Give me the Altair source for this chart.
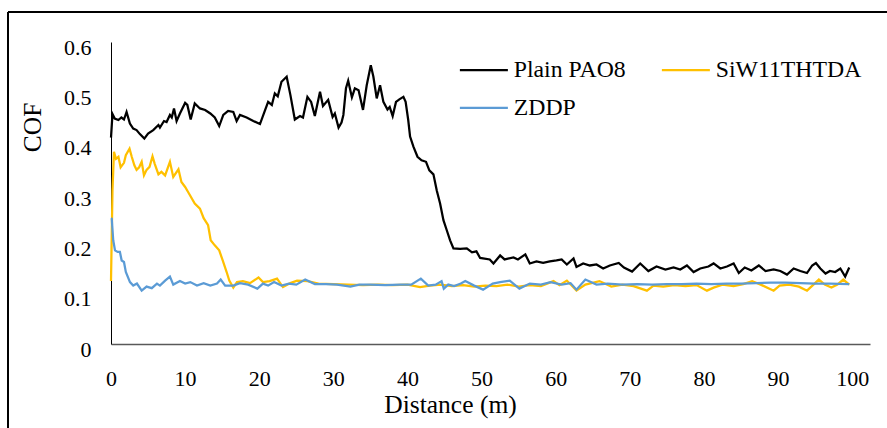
import altair as alt
import pandas as pd

SERIES = ["Plain PAO8", "SiW11THTDA", "ZDDP"]
COLORS = ["#000000", "#FFC000", "#5B9BD5"]
X_TICKS = [0, 10, 20, 30, 40, 50, 60, 70, 80, 90, 100]
Y_TICKS = [0, 0.1, 0.2, 0.3, 0.4, 0.5, 0.6]

# (distance m, COF)
PAO8 = [(0, 0.410), (0.2, 0.457), (0.5, 0.448), (1.0, 0.445), (1.4, 0.450), (1.75, 0.446), (2.1, 0.461),
        (2.55, 0.438), (3.0, 0.428), (3.45, 0.425), (3.9, 0.417), (4.5, 0.408), (5.0, 0.418), (5.7, 0.425),
        (6.4, 0.435), (6.6, 0.430), (7.15, 0.443), (7.5, 0.441), (7.95, 0.455), (8.2, 0.450), (8.5, 0.468),
        (8.85, 0.443), (9.3, 0.458), (10.0, 0.479), (10.3, 0.475), (10.75, 0.446), (11.3, 0.478), (12.0, 0.468),
        (12.7, 0.465), (13.4, 0.458), (14.0, 0.450), (14.6, 0.433), (15.15, 0.455), (15.8, 0.463), (16.5, 0.461),
        (16.95, 0.443), (17.4, 0.455), (18.3, 0.450), (19.2, 0.443), (20.1, 0.437), (20.8, 0.465), (21.2, 0.481),
        (21.7, 0.475), (22.1, 0.498), (22.5, 0.492), (23.0, 0.521), (23.7, 0.531), (24.2, 0.495), (24.8, 0.446),
        (25.5, 0.453), (25.9, 0.450), (26.5, 0.491), (27.0, 0.481), (27.5, 0.453), (28.2, 0.501), (28.6, 0.473),
        (29.3, 0.485), (29.9, 0.451), (30.2, 0.458), (30.7, 0.430), (31.1, 0.440), (31.35, 0.455), (31.7, 0.508),
        (32.0, 0.523), (32.5, 0.490), (32.9, 0.508), (33.4, 0.504), (34.0, 0.465), (34.5, 0.514), (35.05, 0.554),
        (35.4, 0.531), (35.85, 0.488), (36.3, 0.514), (36.75, 0.481), (37.3, 0.466), (37.6, 0.471), (38.0, 0.453),
        (38.45, 0.481), (38.9, 0.486), (39.45, 0.491), (39.75, 0.481), (40.1, 0.445), (40.35, 0.412), (40.8, 0.392),
        (41.35, 0.372), (41.9, 0.365), (42.5, 0.362), (42.95, 0.345), (43.5, 0.337), (43.95, 0.305), (44.4, 0.279),
        (44.85, 0.246), (45.3, 0.226), (45.75, 0.206), (46.2, 0.190), (47.1, 0.189), (48.0, 0.190), (48.7, 0.182),
        (49.3, 0.184), (49.8, 0.171), (51.1, 0.168), (51.6, 0.160), (52.5, 0.176), (53.1, 0.168), (54.3, 0.172),
        (54.9, 0.168), (55.9, 0.178), (56.5, 0.160), (57.4, 0.164), (58.3, 0.161), (59.2, 0.164), (60.1, 0.166),
        (60.8, 0.168), (61.5, 0.158), (62.4, 0.170), (62.8, 0.153), (63.7, 0.160), (64.6, 0.156), (65.5, 0.158),
        (66.4, 0.150), (67.3, 0.156), (68.5, 0.161), (69.2, 0.152), (70.3, 0.144), (71.4, 0.160), (72.5, 0.145),
        (73.6, 0.154), (74.8, 0.148), (75.9, 0.152), (76.8, 0.148), (77.7, 0.156), (78.6, 0.143), (79.5, 0.150),
        (80.6, 0.154), (81.3, 0.160), (82.2, 0.150), (83.1, 0.154), (84.0, 0.160), (84.7, 0.141), (85.5, 0.152),
        (86.4, 0.146), (87.4, 0.156), (88.3, 0.145), (89.4, 0.148), (90.3, 0.145), (91.2, 0.138), (92.1, 0.150),
        (93.0, 0.145), (93.9, 0.141), (94.6, 0.156), (95.1, 0.161), (95.7, 0.150), (96.4, 0.140), (97.0, 0.145),
        (97.7, 0.143), (98.4, 0.150), (99.05, 0.134), (99.6, 0.152)]

SIW = [(0, 0.125), (0.2, 0.305), (0.4, 0.382), (0.67, 0.368), (1.0, 0.372), (1.3, 0.351), (1.75, 0.360),
       (2.0, 0.375), (2.5, 0.388), (2.8, 0.372), (3.15, 0.355), (3.45, 0.346), (3.8, 0.351), (4.14, 0.362),
       (4.45, 0.335), (4.8, 0.346), (5.2, 0.352), (5.6, 0.373), (5.9, 0.358), (6.4, 0.337), (6.8, 0.342),
       (7.3, 0.335), (7.95, 0.362), (8.4, 0.332), (9.1, 0.347), (9.5, 0.322), (10.0, 0.312), (10.4, 0.302),
       (11.3, 0.279), (12.0, 0.269), (12.5, 0.250), (13.1, 0.236), (13.45, 0.206), (14.0, 0.196), (14.6, 0.186),
       (15.07, 0.166), (15.6, 0.143), (15.96, 0.126), (16.5, 0.112), (17.0, 0.123), (17.8, 0.125), (18.76, 0.121),
       (19.9, 0.132), (20.5, 0.123), (21.4, 0.125), (22.4, 0.130), (23.2, 0.113), (24.2, 0.121), (25.1, 0.126),
       (26.5, 0.125), (28.0, 0.120), (30.0, 0.119), (32.0, 0.118), (34.0, 0.117), (36.0, 0.118), (38.0, 0.117),
       (40.0, 0.118), (41.7, 0.113), (43.0, 0.116), (44.5, 0.118), (46.0, 0.115), (47.5, 0.117), (49.0, 0.114),
       (50.5, 0.116), (52.0, 0.115), (53.5, 0.118), (55.0, 0.114), (56.5, 0.117), (58.0, 0.115), (59.7, 0.125),
       (60.5, 0.117), (61.5, 0.126), (62.8, 0.106), (64.0, 0.118), (65.9, 0.125), (67.5, 0.114), (69.0, 0.118),
       (70.5, 0.115), (72.3, 0.106), (73.2, 0.116), (74.5, 0.114), (76.0, 0.117), (77.5, 0.115), (79.0, 0.117),
       (80.4, 0.106), (81.3, 0.112), (82.5, 0.118), (84.0, 0.115), (85.3, 0.119), (86.5, 0.125), (87.8, 0.117),
       (89.4, 0.106), (90.2, 0.116), (91.5, 0.118), (92.8, 0.114), (93.9, 0.106), (94.7, 0.117), (95.5, 0.128),
       (96.3, 0.118), (97.2, 0.112), (98.0, 0.118), (98.8, 0.128), (99.6, 0.118)]

ZDDP = [(0, 0.250), (0.1, 0.249), (0.3, 0.206), (0.54, 0.186), (0.9, 0.183), (1.2, 0.183), (1.44, 0.166),
        (1.75, 0.163), (2.0, 0.143), (2.56, 0.123), (3.0, 0.116), (3.5, 0.120), (4.14, 0.106), (4.8, 0.114),
        (5.5, 0.111), (6.2, 0.120), (6.6, 0.116), (7.3, 0.126), (7.95, 0.134), (8.4, 0.118), (9.3, 0.125),
        (10.0, 0.120), (10.7, 0.123), (11.6, 0.116), (12.5, 0.121), (13.4, 0.116), (14.3, 0.120), (14.8, 0.128),
        (15.4, 0.116), (16.5, 0.116), (17.4, 0.121), (18.5, 0.118), (19.75, 0.110), (20.5, 0.120), (21.2, 0.116),
        (22.0, 0.123), (23.0, 0.116), (24.0, 0.120), (25.0, 0.118), (26.2, 0.128), (27.5, 0.119), (29.0, 0.119),
        (30.5, 0.118), (32.3, 0.114), (33.5, 0.118), (35.0, 0.118), (37.0, 0.117), (39.0, 0.118), (40.5, 0.118),
        (41.8, 0.130), (42.8, 0.116), (43.8, 0.118), (44.6, 0.125), (44.9, 0.110), (45.5, 0.118), (46.3, 0.115),
        (47.2, 0.120), (47.8, 0.125), (49.0, 0.116), (50.2, 0.108), (51.5, 0.120), (52.5, 0.123), (53.8, 0.126),
        (55.1, 0.110), (56.5, 0.120), (58.0, 0.118), (59.3, 0.123), (60.8, 0.118), (62.0, 0.121), (62.8, 0.108),
        (64.0, 0.128), (65.5, 0.118), (67.0, 0.120), (69.0, 0.118), (71.0, 0.119), (73.0, 0.118), (75.0, 0.119),
        (77.0, 0.119), (79.0, 0.120), (81.0, 0.119), (83.0, 0.120), (85.0, 0.120), (87.0, 0.121), (89.0, 0.122),
        (91.0, 0.122), (93.0, 0.121), (95.0, 0.120), (97.0, 0.120), (99.6, 0.119)]

rows = []
for name, pts in zip(SERIES, [PAO8, SIW, ZDDP]):
    for i, (d, v) in enumerate(pts):
        rows.append({"series": name, "distance": d, "cof": v, "idx": i})
df = pd.DataFrame(rows)

FONT = "Liberation Serif"
W, H = 759, 302

lines = alt.Chart(df).mark_line(strokeWidth=2.25).encode(
    x=alt.X(
        "distance:Q",
        scale=alt.Scale(domain=[0, 102.4], nice=False, zero=False),
        axis=alt.Axis(
            values=X_TICKS, title="Distance (m)", grid=False, ticks=False,
            domainColor="#595959", domainWidth=1.5,
            labelFont=FONT, labelFontSize=22, labelColor="#000000", labelPadding=24,
            labelFlush=False, labelOverlap=False,
            titleFont=FONT, titleFontSize=25.5, titleFontWeight="normal", titleColor="#000000",
            titleX=339, titleY=68, titleAlign="center", titleBaseline="alphabetic",
        ),
    ),
    y=alt.Y(
        "cof:Q",
        scale=alt.Scale(domain=[0, 0.6], nice=False),
        axis=alt.Axis(
            values=Y_TICKS, title="COF", grid=False, ticks=False,
            domainColor="#000000", domainWidth=1,
            labelExpr="datum.value == 0 ? '0' : format(datum.value, '.1f')",
            labelFont=FONT, labelFontSize=22, labelColor="#000000", labelPadding=20,
            labelOffset=5, labelOverlap=False, labelFlush=False,
            titleFont=FONT, titleFontSize=25.5, titleFontWeight="normal", titleColor="#000000",
            titleAngle=270, titleX=-71, titleY=85, titleAlign="center", titleBaseline="alphabetic",
        ),
    ),
    color=alt.Color(
        "series:N",
        scale=alt.Scale(domain=SERIES, range=COLORS),
        legend=alt.Legend(
            title=None, orient="none", legendX=361, legendY=16, columns=2, direction="horizontal",
            symbolType="M-3,0H3", symbolSize=256, symbolStrokeWidth=2.25,
            labelFont=FONT, labelFontSize=23.75, labelColor="#000000", labelOffset=18,
            columnPadding=31, rowPadding=13, padding=0, labelLimit=300,
        ),
    ),
)

one = alt.Data(values=[{}])
frame_top = alt.Chart(one).mark_rule(color="#000000", strokeWidth=2).encode(
    x=alt.value(-103), x2=alt.value(800), y=alt.value(-30)
)
frame_left = alt.Chart(one).mark_rule(color="#000000", strokeWidth=2).encode(
    x=alt.value(-103), y=alt.value(-30), y2=alt.value(420)
)

chart = alt.layer(lines, frame_top, frame_left).properties(
    width=W, height=H,
    autosize=alt.AutoSizeParams(type="none"),
    padding={"left": 111, "top": 42, "right": 17, "bottom": 84},
    background="#ffffff",
).configure(font=FONT).configure_axis(
    labelFont=FONT, titleFont=FONT
).configure_legend(
    labelFont=FONT
).configure_view(stroke=None)

chart.save("out.html", embed_options={"renderer": "svg", "actions": False})
